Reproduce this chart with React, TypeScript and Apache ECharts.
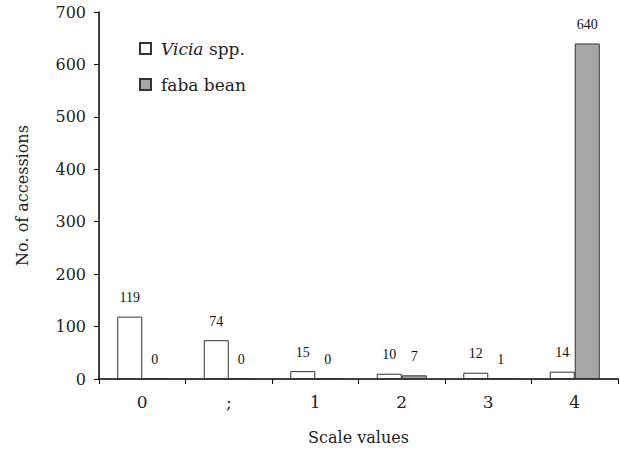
import React, { useEffect, useRef } from "react";
import * as echarts from "echarts";

const categories = ["0", ";", "1", "2", "3", "4"];
const viciaValues = [119, 74, 15, 10, 12, 14];
const fabaValues = [0, 0, 0, 7, 1, 640];
const seriesNames = ["Vicia spp.", "faba bean"];

const FONT = "DejaVu Serif";
const LABEL_FONT = "Liberation Serif";

export default function App() {
  const ref = useRef<HTMLDivElement>(null);
  useEffect(() => {
    if (!ref.current) return;
    const chart = echarts.init(ref.current, undefined, { renderer: "svg" });
    const labelCfg = {
      show: true,
      position: "top" as const,
      distance: 12,
      color: "#111",
      fontFamily: LABEL_FONT,
      fontSize: 14,
    };
    chart.setOption({
      animation: false,
      backgroundColor: "#fff",
      textStyle: { fontFamily: FONT },
      grid: { left: 99, right: 2, top: 12, bottom: 69, containLabel: false },
      legend: {
        orient: "vertical",
        left: 134,
        top: 35,
        itemWidth: 11,
        itemHeight: 11,
        itemGap: 19,
        icon: "rect",
        data: seriesNames,
        formatter: (name: string) =>
          name === "Vicia spp." ? "{i|Vicia} {n|spp.}" : "{n|" + name + "}",
        textStyle: {
          fontFamily: FONT,
          fontSize: 17,
          color: "#222",
          padding: [0, 0, 0, 5],
          rich: {
            i: { fontFamily: FONT, fontSize: 17, fontStyle: "italic", color: "#222", lineHeight: 20 },
            n: { fontFamily: FONT, fontSize: 17, color: "#222", lineHeight: 20 },
          },
        },
      },
      xAxis: {
        type: "category",
        data: categories,
        name: "Scale values",
        nameLocation: "middle",
        nameGap: 50,
        nameTextStyle: { fontFamily: FONT, fontSize: 16, color: "#222" },
        axisLine: { lineStyle: { color: "#000", width: 1.5 } },
        axisTick: { show: true, length: 5, lineStyle: { color: "#000" } },
        axisLabel: { fontFamily: FONT, fontSize: 17, color: "#222", margin: 14 },
      },
      yAxis: {
        type: "value",
        min: 0,
        max: 700,
        interval: 100,
        name: "No. of accessions",
        nameLocation: "middle",
        nameGap: 69,
        nameTextStyle: { fontFamily: FONT, fontSize: 16, color: "#222" },
        axisLine: { show: true, lineStyle: { color: "#000", width: 1.5 } },
        axisTick: { show: true, length: 5, lineStyle: { color: "#000" } },
        splitLine: { show: false },
        axisLabel: { fontFamily: FONT, fontSize: 16, color: "#222", margin: 13 },
      },
      series: [
        {
          name: seriesNames[0],
          type: "bar",
          data: viciaValues,
          barWidth: 25,
          barGap: "0%",
          itemStyle: { color: "#ffffff", borderColor: "#333", borderWidth: 1 },
          label: labelCfg,
        },
        {
          name: seriesNames[1],
          type: "bar",
          data: fabaValues,
          barWidth: 25,
          barGap: "0%",
          itemStyle: { color: "#a6a6a6", borderColor: "#333", borderWidth: 1 },
          label: labelCfg,
        },
      ],
    });
    return () => chart.dispose();
  }, []);
  return (
    <div
      ref={ref}
      style={{ position: "absolute", left: 0, top: 0, width: 620, height: 450 }}
    />
  );
}
